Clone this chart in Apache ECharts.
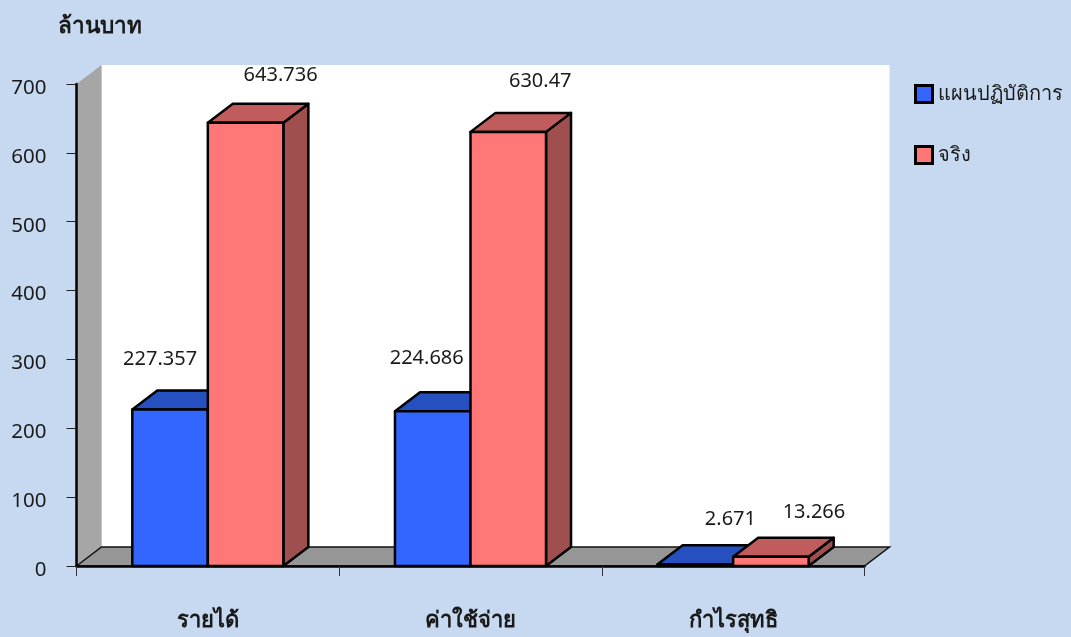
<!DOCTYPE html>
<html>
<head>
<meta charset="utf-8">
<style>
  html, body { margin: 0; padding: 0; background: #C6D9F0; }
  #chart { width: 1071px; height: 637px; }
</style>
<script src="https://cdn.jsdelivr.net/npm/echarts@6/dist/echarts.min.js"></script>
</head>
<body>
<div id="chart"></div>
<script>
const categories = ['รายได้', 'ค่าใช้จ่าย', 'กำไรสุทธิ'];
const planValues = [227.357, 224.686, 2.671];
const actualValues = [643.736, 630.47, 13.266];
const yTicks = { min: 0, max: 700, interval: 100 };

// the value labels sit by hand in the original, offset from the middle of the bar top
const planLabelOffsets = [[-10, -50], [-6, -53], [35, -45]];
const actualLabelOffsets = [[35, -47], [32, -51], [43, -45]];

const FONT = '"Noto Sans", "DejaVu Sans", sans-serif';
const DEPTH_X = 25;
const DEPTH_Y = -19;
const BAR_SHARE = 0.2875; // bar width / category width

// side walls, floor and back of the fake 3D box
function renderBox(params) {
  const r = params.coordSys;
  const left = r.x, right = r.x + r.width, top = r.y, bottom = r.y + r.height;
  return {
    type: 'group',
    children: [
      {
        type: 'rect',
        shape: { x: left + DEPTH_X, y: top + DEPTH_Y, width: r.width, height: r.height },
        style: { fill: '#fff' }
      },
      {
        type: 'polygon',
        shape: { points: [[left, top], [left + DEPTH_X, top + DEPTH_Y], [left + DEPTH_X, bottom + DEPTH_Y], [left, bottom]] },
        style: { fill: '#A6A6A6' }
      },
      {
        type: 'polygon',
        shape: { points: [[left, bottom], [left + DEPTH_X, bottom + DEPTH_Y], [right + DEPTH_X, bottom + DEPTH_Y], [right, bottom]] },
        style: { fill: '#969696', stroke: '#111', lineWidth: 1.5 }
      }
    ]
  };
}

function makeBarRender(side, colors, offsets) {
  return function (params, api) {
    const idx = api.value(0);
    const value = api.value(1);
    const base = api.coord([idx, 0]);
    const tip = api.coord([idx, value]);
    const w = api.size([1, 0])[0] * BAR_SHARE;
    const x0 = side < 0 ? base[0] - w : base[0];
    const x1 = x0 + w;
    const edge = { stroke: '#000', lineWidth: 2.5, lineJoin: 'round' };
    const off = offsets[idx];
    return {
      type: 'group',
      children: [
        {
          type: 'polygon',
          shape: { points: [[x1, tip[1]], [x1 + DEPTH_X, tip[1] + DEPTH_Y], [x1 + DEPTH_X, base[1] + DEPTH_Y], [x1, base[1]]] },
          style: Object.assign({ fill: colors.side }, edge)
        },
        {
          type: 'polygon',
          shape: { points: [[x0, tip[1]], [x0 + DEPTH_X, tip[1] + DEPTH_Y], [x1 + DEPTH_X, tip[1] + DEPTH_Y], [x1, tip[1]]] },
          style: Object.assign({ fill: colors.top }, edge)
        },
        {
          type: 'rect',
          shape: { x: x0, y: tip[1], width: w, height: base[1] - tip[1] },
          style: Object.assign({ fill: colors.front }, edge)
        },
        {
          type: 'text',
          x: (x0 + x1) / 2 + off[0],
          y: tip[1] + off[1],
          style: {
            text: String(value),
            fill: '#1a1a1a',
            font: '20px ' + FONT,
            textAlign: 'center',
            textVerticalAlign: 'middle'
          }
        }
      ]
    };
  };
}

function toPoints(values) {
  return values.map((v, i) => [i, v]);
}

const planColors = { front: '#3366FF', top: '#264FC0', side: '#1F3F99' };
const actualColors = { front: '#FF7777', top: '#C05C5C', side: '#A04F4F' };

const chart = echarts.init(document.getElementById('chart'), null, { renderer: 'canvas' });

chart.setOption({
  backgroundColor: '#C6D9F0',
  animation: false,
  title: {
    text: 'ล้านบาท',
    left: 53,
    top: 10,
    textStyle: { fontFamily: FONT, fontSize: 22.5, fontWeight: 'bold', color: '#1a1a1a' }
  },
  legend: {
    orient: 'vertical',
    left: 909,
    top: 79,
    itemWidth: 17,
    itemHeight: 17,
    itemGap: 41,
    data: ['แผนปฏิบัติการ', 'จริง'],
    icon: 'rect',
    itemStyle: { borderColor: '#000', borderWidth: 3 },
    textStyle: { fontFamily: FONT, fontSize: 20, color: '#1a1a1a', padding: [6, 0, 0, 0] }
  },
  grid: { left: 76.5, right: 206.5, top: 84, bottom: 71 },
  xAxis: {
    type: 'category',
    data: categories,
    z: 10,
    axisLine: { lineStyle: { color: '#000', width: 2.5 } },
    axisTick: { show: true, length: 10, lineStyle: { color: '#333', width: 1 } },
    axisLabel: { margin: 44, fontFamily: FONT, fontSize: 22, fontWeight: 'bold', color: '#1a1a1a' },
    splitLine: { show: false }
  },
  yAxis: {
    type: 'value',
    min: yTicks.min,
    max: yTicks.max,
    interval: yTicks.interval,
    z: 10,
    axisLine: { show: true, lineStyle: { color: '#000', width: 2.5 } },
    axisTick: { show: true, length: 10, lineStyle: { color: '#222', width: 1 } },
    // top aligned with a short line box drops the digits a few px below the tick
    axisLabel: { margin: 30, fontFamily: FONT, fontSize: 20.5, color: '#1a1a1a', verticalAlign: 'top', lineHeight: 8 },
    splitLine: { show: false }
  },
  series: [
    {
      type: 'custom',
      name: 'box',
      silent: true,
      clip: false,
      z: 1,
      renderItem: renderBox,
      data: [[0, 0]]
    },
    {
      type: 'custom',
      name: 'แผนปฏิบัติการ',
      clip: false,
      z: 3,
      itemStyle: { color: planColors.front, borderColor: '#000', borderWidth: 3 },
      renderItem: makeBarRender(-1, planColors, planLabelOffsets),
      encode: { x: 0, y: 1 },
      data: toPoints(planValues)
    },
    {
      type: 'custom',
      name: 'จริง',
      clip: false,
      z: 4,
      itemStyle: { color: actualColors.front, borderColor: '#000', borderWidth: 3 },
      renderItem: makeBarRender(1, actualColors, actualLabelOffsets),
      encode: { x: 0, y: 1 },
      data: toPoints(actualValues)
    }
  ]
});
</script>
</body>
</html>
